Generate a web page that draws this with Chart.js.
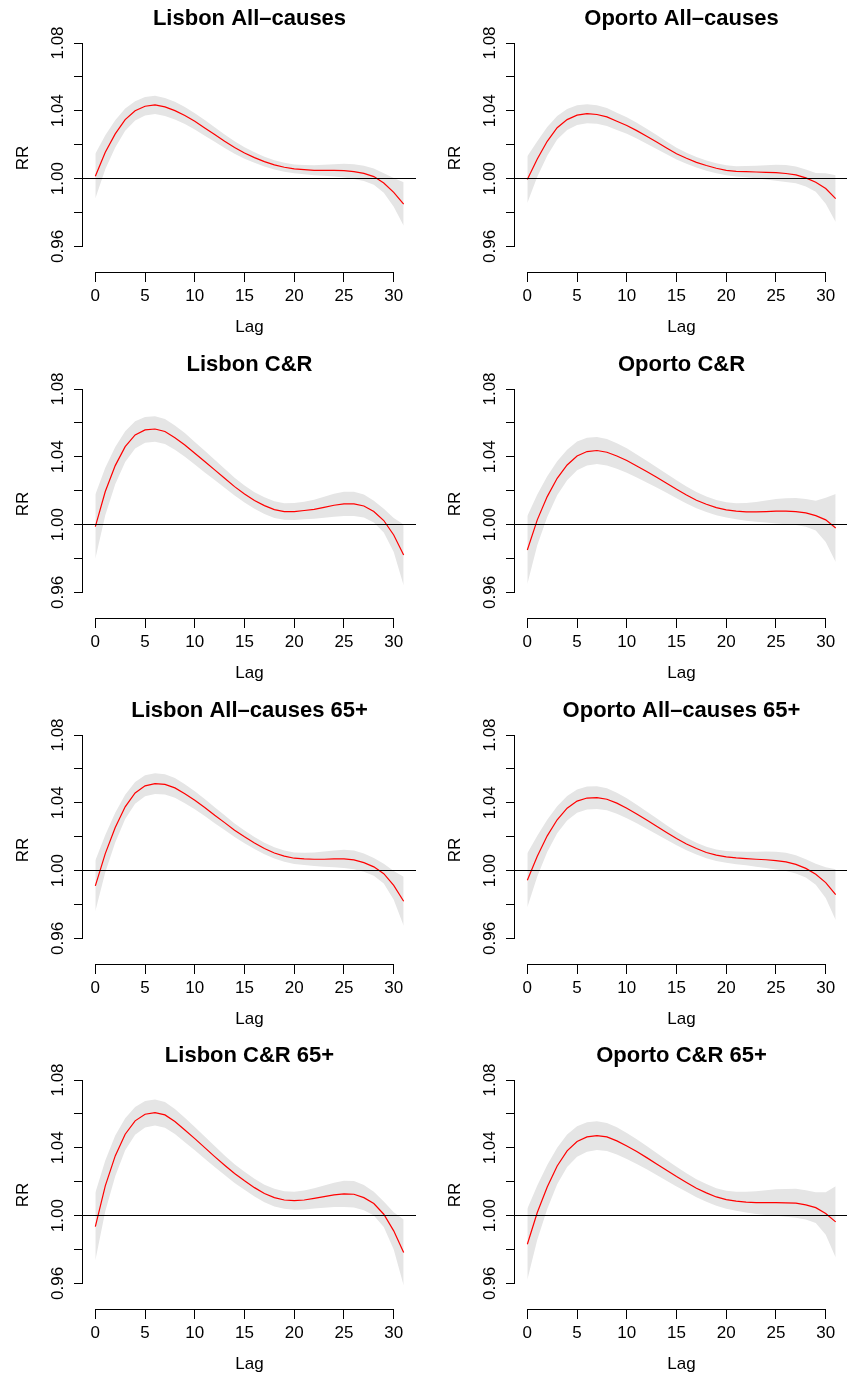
<!DOCTYPE html>
<html>
<head>
<meta charset="utf-8">
<title>RR by lag</title>
<script src="https://cdn.jsdelivr.net/npm/chart.js@4.4.0/dist/chart.umd.min.js"></script>
<style>
  html, body { margin: 0; padding: 0; background: #fff; }
  #wrap { position: relative; width: 847px; height: 1378px; overflow: hidden; background: #fff; }
  #wrap canvas { position: absolute; }
</style>
</head>
<body>
<div id="wrap"></div>
<script>
"use strict";

const lags = [0, 1, 2, 3, 4, 5, 6, 7, 8, 9, 10, 11, 12, 13, 14, 15, 16, 17, 18, 19, 20, 21, 22, 23, 24, 25, 26, 27, 28, 29, 30, 31];
const xTicks = [0, 5, 10, 15, 20, 25, 30];
const yTicks = [0.96, 0.98, 1.00, 1.02, 1.04, 1.06, 1.08];
const yLabelled = [0.96, 1.00, 1.04, 1.08];
const titles = ["Lisbon All\u2013causes", "Oporto All\u2013causes", "Lisbon C&R", "Oporto C&R",
    "Lisbon All\u2013causes 65+", "Oporto All\u2013causes 65+", "Lisbon C&R 65+", "Oporto C&R 65+"];

// Lisbon All-causes
const lisAllRR = [1.0014, 1.0155, 1.0264, 1.0348, 1.0400, 1.0427, 1.0435, 1.0423, 1.0401, 1.0372, 1.0338, 1.0299, 1.0260, 1.0220, 1.0183, 1.0151,
    1.0124, 1.0100, 1.0081, 1.0067, 1.0057, 1.0053, 1.0049, 1.0049, 1.0049, 1.0047, 1.0041, 1.0031, 1.0012, 0.9974, 0.9919, 0.9850];
const lisAllHi = [1.0146, 1.0255, 1.0344, 1.0413, 1.0457, 1.0482, 1.0489, 1.0476, 1.0453, 1.0422, 1.0386, 1.0345, 1.0303, 1.0260, 1.0220, 1.0185,
    1.0155, 1.0129, 1.0108, 1.0093, 1.0083, 1.0080, 1.0078, 1.0081, 1.0085, 1.0087, 1.0084, 1.0076, 1.0060, 1.0032, 1.0004, 0.9978];
const lisAllLo = [0.9882, 1.0055, 1.0184, 1.0283, 1.0343, 1.0372, 1.0381, 1.0370, 1.0349, 1.0322, 1.0290, 1.0253, 1.0217, 1.0180, 1.0146, 1.0117,
    1.0093, 1.0071, 1.0054, 1.0041, 1.0031, 1.0026, 1.0020, 1.0017, 1.0013, 1.0007, 0.9998, 0.9986, 0.9964, 0.9916, 0.9834, 0.9722];

// Oporto All-causes
const opoAllRR = [0.9994, 1.0116, 1.0220, 1.0300, 1.0348, 1.0374, 1.0383, 1.0378, 1.0364, 1.0338, 1.0313, 1.0283, 1.0250, 1.0216, 1.0181, 1.0147,
    1.0120, 1.0096, 1.0077, 1.0061, 1.0049, 1.0043, 1.0041, 1.0039, 1.0037, 1.0035, 1.0030, 1.0022, 1.0004, 0.9978, 0.9941, 0.9882];
const opoAllHi = [1.0132, 1.0221, 1.0305, 1.0370, 1.0410, 1.0432, 1.0439, 1.0433, 1.0417, 1.0389, 1.0362, 1.0330, 1.0294, 1.0257, 1.0219, 1.0182,
    1.0153, 1.0127, 1.0107, 1.0090, 1.0078, 1.0073, 1.0074, 1.0076, 1.0079, 1.0082, 1.0080, 1.0072, 1.0054, 1.0033, 1.0031, 1.0020];
const opoAllLo = [0.9856, 1.0011, 1.0135, 1.0230, 1.0286, 1.0316, 1.0327, 1.0323, 1.0311, 1.0287, 1.0264, 1.0236, 1.0206, 1.0175, 1.0143, 1.0112,
    1.0087, 1.0065, 1.0047, 1.0032, 1.0020, 1.0013, 1.0008, 1.0002, 0.9995, 0.9988, 0.9980, 0.9972, 0.9954, 0.9923, 0.9851, 0.9744];

// Lisbon C&R
const lisCrRR = [0.9988, 1.0195, 1.0348, 1.0460, 1.0529, 1.0559, 1.0564, 1.0549, 1.0513, 1.0470, 1.0421, 1.0372, 1.0323, 1.0273, 1.0224, 1.0181,
    1.0142, 1.0112, 1.0088, 1.0077, 1.0077, 1.0083, 1.0090, 1.0102, 1.0114, 1.0122, 1.0122, 1.0110, 1.0077, 1.0024, 0.9939, 0.9821];
const lisCrHi = [1.0178, 1.0335, 1.0458, 1.0550, 1.0609, 1.0635, 1.0639, 1.0623, 1.0585, 1.0540, 1.0488, 1.0436, 1.0383, 1.0329, 1.0276, 1.0231,
    1.0191, 1.0161, 1.0137, 1.0126, 1.0127, 1.0135, 1.0146, 1.0164, 1.0182, 1.0194, 1.0194, 1.0178, 1.0141, 1.0094, 1.0039, 1.0001];
const lisCrLo = [0.9798, 1.0055, 1.0238, 1.0370, 1.0449, 1.0483, 1.0489, 1.0475, 1.0441, 1.0400, 1.0354, 1.0308, 1.0263, 1.0217, 1.0172, 1.0131,
    1.0093, 1.0063, 1.0039, 1.0028, 1.0027, 1.0031, 1.0034, 1.0040, 1.0046, 1.0050, 1.0050, 1.0042, 1.0013, 0.9954, 0.9839, 0.9641];

// Oporto C&R
const opoCrRR = [0.9850, 1.0028, 1.0165, 1.0273, 1.0352, 1.0405, 1.0431, 1.0437, 1.0427, 1.0405, 1.0378, 1.0346, 1.0313, 1.0279, 1.0244, 1.0208,
    1.0175, 1.0144, 1.0120, 1.0100, 1.0087, 1.0079, 1.0075, 1.0075, 1.0077, 1.0079, 1.0079, 1.0077, 1.0069, 1.0053, 1.0028, 0.9980];
const opoCrHi = [1.0050, 1.0178, 1.0285, 1.0373, 1.0442, 1.0490, 1.0513, 1.0517, 1.0505, 1.0480, 1.0450, 1.0414, 1.0377, 1.0339, 1.0300, 1.0261,
    1.0225, 1.0192, 1.0166, 1.0145, 1.0132, 1.0126, 1.0127, 1.0133, 1.0142, 1.0151, 1.0156, 1.0157, 1.0151, 1.0141, 1.0158, 1.0180];
const opoCrLo = [0.9650, 0.9878, 1.0045, 1.0173, 1.0262, 1.0320, 1.0349, 1.0357, 1.0349, 1.0330, 1.0306, 1.0278, 1.0249, 1.0219, 1.0188, 1.0155,
    1.0125, 1.0096, 1.0074, 1.0055, 1.0042, 1.0032, 1.0023, 1.0017, 1.0012, 1.0007, 1.0002, 0.9997, 0.9987, 0.9965, 0.9898, 0.9780];

// Lisbon All-causes 65+
const lisAll65RR = [0.9910, 1.0100, 1.0254, 1.0376, 1.0458, 1.0500, 1.0513, 1.0509, 1.0488, 1.0454, 1.0415, 1.0372, 1.0326, 1.0283, 1.0238, 1.0199,
    1.0163, 1.0130, 1.0104, 1.0085, 1.0073, 1.0069, 1.0067, 1.0067, 1.0069, 1.0069, 1.0063, 1.0047, 1.0022, 0.9982, 0.9913, 0.9819];
const lisAll65Hi = [1.0060, 1.0210, 1.0342, 1.0448, 1.0522, 1.0562, 1.0574, 1.0569, 1.0546, 1.0510, 1.0468, 1.0422, 1.0373, 1.0326, 1.0278, 1.0236,
    1.0198, 1.0164, 1.0137, 1.0118, 1.0107, 1.0105, 1.0107, 1.0112, 1.0119, 1.0123, 1.0118, 1.0101, 1.0074, 1.0040, 0.9998, 0.9964];
const lisAll65Lo = [0.9760, 0.9990, 1.0166, 1.0304, 1.0394, 1.0438, 1.0452, 1.0449, 1.0430, 1.0398, 1.0362, 1.0322, 1.0279, 1.0240, 1.0198, 1.0162,
    1.0128, 1.0096, 1.0071, 1.0052, 1.0039, 1.0033, 1.0027, 1.0022, 1.0019, 1.0015, 1.0008, 0.9993, 0.9970, 0.9924, 0.9828, 0.9674];

// Oporto All-causes 65+
const opoAll65RR = [0.9943, 1.0085, 1.0205, 1.0300, 1.0368, 1.0410, 1.0428, 1.0431, 1.0421, 1.0398, 1.0368, 1.0334, 1.0298, 1.0262, 1.0225, 1.0189,
    1.0157, 1.0130, 1.0107, 1.0091, 1.0081, 1.0075, 1.0071, 1.0067, 1.0064, 1.0059, 1.0051, 1.0037, 1.0013, 0.9978, 0.9929, 0.9858];
const opoAll65Hi = [1.0103, 1.0205, 1.0300, 1.0380, 1.0440, 1.0479, 1.0496, 1.0498, 1.0486, 1.0460, 1.0427, 1.0389, 1.0349, 1.0309, 1.0268, 1.0229,
    1.0194, 1.0165, 1.0141, 1.0125, 1.0116, 1.0112, 1.0111, 1.0111, 1.0113, 1.0111, 1.0105, 1.0091, 1.0067, 1.0040, 1.0019, 1.0008];
const opoAll65Lo = [0.9783, 0.9965, 1.0110, 1.0220, 1.0296, 1.0341, 1.0360, 1.0364, 1.0356, 1.0336, 1.0309, 1.0279, 1.0247, 1.0215, 1.0182, 1.0149,
    1.0120, 1.0095, 1.0073, 1.0057, 1.0046, 1.0038, 1.0031, 1.0023, 1.0015, 1.0007, 0.9997, 0.9983, 0.9959, 0.9916, 0.9839, 0.9708];

// Lisbon C&R 65+
const lisCr65RR = [0.9935, 1.0175, 1.0352, 1.0480, 1.0559, 1.0598, 1.0608, 1.0594, 1.0555, 1.0505, 1.0454, 1.0401, 1.0348, 1.0297, 1.0248, 1.0205,
    1.0165, 1.0130, 1.0106, 1.0092, 1.0088, 1.0092, 1.0102, 1.0112, 1.0122, 1.0128, 1.0126, 1.0106, 1.0071, 1.0008, 0.9910, 0.9782];
const lisCr65Hi = [1.0135, 1.0325, 1.0472, 1.0575, 1.0641, 1.0676, 1.0685, 1.0670, 1.0629, 1.0577, 1.0523, 1.0467, 1.0410, 1.0355, 1.0303, 1.0258,
    1.0217, 1.0182, 1.0158, 1.0144, 1.0141, 1.0148, 1.0162, 1.0178, 1.0194, 1.0205, 1.0204, 1.0181, 1.0141, 1.0083, 1.0020, 0.9977];
const lisCr65Lo = [0.9735, 1.0025, 1.0232, 1.0385, 1.0477, 1.0520, 1.0531, 1.0518, 1.0481, 1.0433, 1.0385, 1.0335, 1.0286, 1.0239, 1.0193, 1.0152,
    1.0113, 1.0078, 1.0054, 1.0040, 1.0035, 1.0036, 1.0042, 1.0046, 1.0050, 1.0051, 1.0048, 1.0031, 1.0001, 0.9933, 0.9800, 0.9587];

// Oporto C&R 65+
const opoCr65RR = [0.9831, 1.0018, 1.0169, 1.0293, 1.0382, 1.0437, 1.0464, 1.0472, 1.0464, 1.0441, 1.0411, 1.0378, 1.0342, 1.0305, 1.0267, 1.0230,
    1.0195, 1.0161, 1.0134, 1.0110, 1.0094, 1.0085, 1.0079, 1.0077, 1.0077, 1.0077, 1.0075, 1.0073, 1.0063, 1.0047, 1.0012, 0.9963];
const opoCr65Hi = [1.0041, 1.0178, 1.0299, 1.0401, 1.0478, 1.0527, 1.0551, 1.0557, 1.0547, 1.0521, 1.0488, 1.0451, 1.0411, 1.0370, 1.0328, 1.0288,
    1.0250, 1.0214, 1.0186, 1.0162, 1.0147, 1.0141, 1.0140, 1.0144, 1.0150, 1.0155, 1.0157, 1.0158, 1.0149, 1.0137, 1.0137, 1.0173];
const opoCr65Lo = [0.9621, 0.9858, 1.0039, 1.0185, 1.0286, 1.0347, 1.0377, 1.0387, 1.0381, 1.0361, 1.0334, 1.0305, 1.0273, 1.0240, 1.0206, 1.0172,
    1.0140, 1.0108, 1.0082, 1.0058, 1.0041, 1.0029, 1.0018, 1.0010, 1.0004, 0.9999, 0.9993, 0.9988, 0.9977, 0.9957, 0.9887, 0.9753];

const panels = [
    { title: titles[0], rr: lisAllRR, lo: lisAllLo, hi: lisAllHi },
    { title: titles[1], rr: opoAllRR, lo: opoAllLo, hi: opoAllHi },
    { title: titles[2], rr: lisCrRR, lo: lisCrLo, hi: lisCrHi },
    { title: titles[3], rr: opoCrRR, lo: opoCrLo, hi: opoCrHi },
    { title: titles[4], rr: lisAll65RR, lo: lisAll65Lo, hi: lisAll65Hi },
    { title: titles[5], rr: opoAll65RR, lo: opoAll65Lo, hi: opoAll65Hi },
    { title: titles[6], rr: lisCr65RR, lo: lisCr65Lo, hi: lisCr65Hi },
    { title: titles[7], rr: opoCr65RR, lo: opoCr65Lo, hi: opoCr65Hi }
];

Chart.defaults.font.family = '"Liberation Sans", Arial, Helvetica, sans-serif';
Chart.defaults.font.size = 17;
Chart.defaults.color = '#000';

// R style axes: lines only between first and last tick, plus abline(h = 1)
const rAxes = {
    id: 'rAxes',
    afterDatasetsDraw(chart) {
        const { ctx, chartArea, scales: { x, y } } = chart;
        const crisp = v => Math.round(v - 0.5) + 0.5;
        ctx.save();
        ctx.strokeStyle = '#000';
        ctx.lineWidth = 1;
        ctx.beginPath();
        const y1 = crisp(y.getPixelForValue(1));
        ctx.moveTo(chartArea.left, y1);
        ctx.lineTo(chartArea.right, y1);
        const ax = Math.floor(chartArea.left) - 0.5;
        ctx.moveTo(ax, crisp(y.getPixelForValue(yTicks[yTicks.length - 1])) - 0.5);
        ctx.lineTo(ax, crisp(y.getPixelForValue(yTicks[0])) + 0.5);
        const ay = Math.floor(chartArea.bottom) - 0.5;
        ctx.moveTo(crisp(x.getPixelForValue(xTicks[0])) - 0.5, ay);
        ctx.lineTo(crisp(x.getPixelForValue(xTicks[xTicks.length - 1])) + 0.5, ay);
        ctx.stroke();
        ctx.restore();
    }
};

const colLeft = [0, 432];
const rowTop = [0, 346, 692, 1037];
const wrap = document.getElementById('wrap');

function points(values) {
    return lags.map((lag, i) => ({ x: lag, y: values[i] }));
}

function makePanel(p, i) {
    const canvas = document.createElement('canvas');
    canvas.width = 424;
    canvas.height = 346;
    canvas.style.left = colLeft[i % 2] + 'px';
    canvas.style.top = rowTop[Math.floor(i / 2)] + 'px';
    wrap.appendChild(canvas);

    const tickGrid = { drawOnChartArea: false, drawTicks: true, tickLength: 9, color: '#000', lineWidth: 1 };

    return new Chart(canvas.getContext('2d'), {
        type: 'line',
        data: {
            datasets: [{
                data: points(p.hi),
                order: 2,
                fill: '+1',
                backgroundColor: '#e5e5e5',
                borderColor: 'transparent',
                borderWidth: 0,
                pointRadius: 0
            }, {
                data: points(p.lo),
                order: 1,
                fill: false,
                borderColor: 'transparent',
                borderWidth: 0,
                pointRadius: 0
            }, {
                data: points(p.rr),
                order: 0,
                fill: false,
                borderColor: '#ff0000',
                borderWidth: 1.2,
                pointRadius: 0,
                tension: 0
            }]
        },
        options: {
            responsive: false,
            animation: false,
            events: [],
            layout: { padding: { top: 0, right: 8, bottom: 0, left: 0 } },
            plugins: {
                legend: { display: false },
                tooltip: { enabled: false },
                title: {
                    display: true,
                    text: p.title,
                    fullSize: false,
                    color: '#000',
                    font: { size: 22, weight: 'bold' },
                    padding: { top: 5.6, bottom: 11.0 }
                }
            },
            scales: {
                x: {
                    type: 'linear',
                    min: -1.24,
                    max: 32.24,
                    afterBuildTicks: axis => { axis.ticks = xTicks.map(v => ({ value: v })); },
                    afterFit: scale => { scale.height = 73; },
                    ticks: { autoSkip: false, maxRotation: 0, padding: 4.5, color: '#000' },
                    grid: tickGrid,
                    border: { display: false },
                    title: { display: true, text: 'Lag', color: '#000', padding: { top: 0, bottom: 8 } }
                },
                y: {
                    type: 'linear',
                    min: 0.9443,
                    max: 1.08,
                    afterBuildTicks: axis => { axis.ticks = yTicks.map(v => ({ value: v })); },
                    afterFit: scale => { scale.width = 83; },
                    ticks: {
                        autoSkip: false,
                        minRotation: 90,
                        maxRotation: 90,
                        crossAlign: 'center',
                        padding: -1,
                        color: '#000',
                        callback: v => yLabelled.some(t => Math.abs(t - v) < 1e-9) ? v.toFixed(2) : ''
                    },
                    grid: tickGrid,
                    border: { display: false },
                    title: { display: true, text: 'RR', color: '#000', padding: { top: 13.5, bottom: 0 } }
                }
            }
        },
        plugins: [rAxes]
    });
}

panels.forEach(makePanel);
</script>
</body>
</html>
